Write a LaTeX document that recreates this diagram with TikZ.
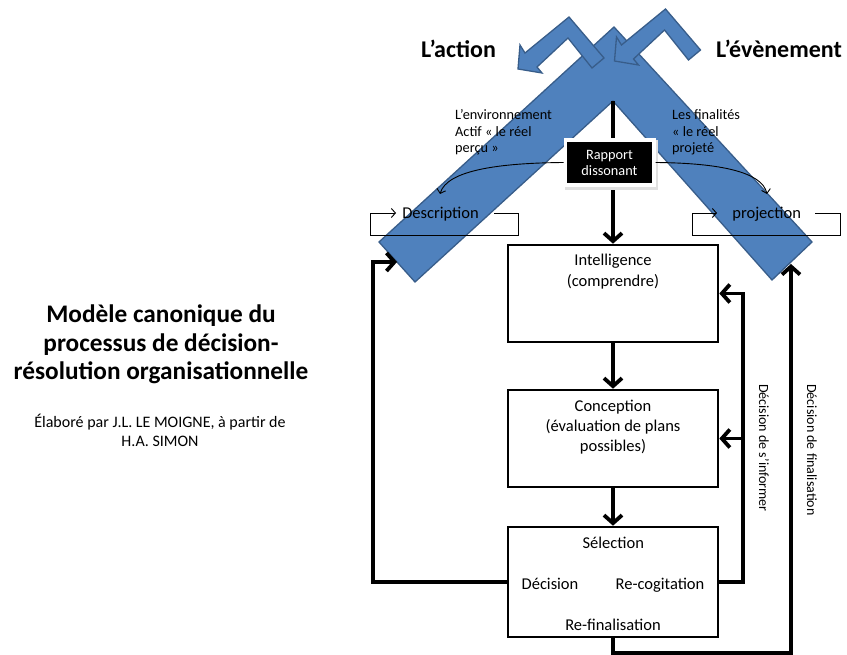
\documentclass[tikz,border=0pt]{standalone}
\usepackage{fontspec}
\setmainfont{Carlito}
\usetikzlibrary{arrows.meta}
\definecolor{chevfill}{HTML}{4F81BD}
\definecolor{chevline}{HTML}{385D8A}
\begin{document}
\begin{tikzpicture}[x=1pt,y=-1pt,
  procbox/.style={draw=black, line width=2.6pt, minimum width=210pt, inner sep=0pt},
  lbl/.style={inner sep=0pt, anchor=base, font=\fontsize{16.5}{20}\selectfont},
  small/.style={inner sep=0pt, anchor=base west, font=\fontsize{14.3}{17}\selectfont},
  vlbl/.style={inner sep=0pt, rotate=-90, font=\fontsize{14}{17}\selectfont},
  headline/.style={inner sep=0pt, anchor=base, font=\bfseries\fontsize{24}{28}\selectfont},
  titleline/.style={inner sep=0pt, anchor=base, font=\bfseries\fontsize{25.3}{28.5}\selectfont},
  subline/.style={inner sep=0pt, anchor=base, font=\fontsize{16}{19}\selectfont},
  fb/.style={line width=3.8pt, -{Straight Barb[length=8pt,width=18pt]}},
  thinarrow/.style={line width=0.9pt, -{Straight Barb[length=4pt,width=9pt]}},
  blueshape/.style={fill=chevfill, draw=chevline, line width=1.3pt, line join=miter}
]
\useasboundingbox (0,0) rectangle (847,655);

% big chevron
\path[blueshape] (379,242) -- (614,27) -- (812,242) -- (772,280) -- (613,101) -- (415,282) -- cycle;
% small bent arrows
\path[blueshape] (604,58) -- (569,17) -- (525,53) -- (520,45) -- (518,69) -- (542,73) -- (537,67) -- (568,38) -- (592,68) -- cycle;
\path[blueshape, shift={(96.5,-8)}] (604,58) -- (569,17) -- (525,53) -- (520,45) -- (518,69) -- (542,73) -- (537,67) -- (568,38) -- (592,68) -- cycle;

% process boxes
\node[procbox, minimum height=97pt] (intel) at (613,293.5) {};
\node[procbox, minimum height=97pt] (conc) at (613,438.5) {};
\node[procbox, minimum height=110pt] (sel) at (613,582) {};

% main vertical flow
\coordinate (apex) at (613,101);
\draw[fb] (apex) -- (intel.north);
\draw[fb] (intel.south) -- (conc.north);
\draw[fb] (conc.south) -- (sel.north);

% rapport dissonant
\fill[black!12] (565,140) rectangle (658,190);
\node[fill=black, draw=white, line width=3.5pt, minimum width=88.5pt, minimum height=45pt, inner sep=0pt] (rap) at (609.5,162.5) {};
\node[inner sep=0pt, anchor=base, text=white, font=\fontsize{14.3}{17}\selectfont] (rap1) at (609.5,159.3) {Rapport};
\node[inner sep=0pt, anchor=base, text=white, font=\fontsize{14.3}{17}\selectfont] (rap2) at (609.5,176) {dissonant};

% curved arrows
\coordinate (dtip) at (440,194);
\coordinate (ptip) at (767,194);
\draw[thinarrow] (rap.west) .. controls (500,163) and (447,170) .. (dtip);
\draw[thinarrow] (rap.east) .. controls (720,163) and (762,172) .. (ptip);

% description loop
\node[lbl] (desc) at (440.5,218.5) {Description};
\coordinate (d1) at (494,213);
\coordinate (d2) at (518,235);
\coordinate (d3) at (370,213);
\coordinate (d4) at (396,213);
\draw[thinarrow] (d1) -| (d2) -| (d3) -- (d4);

% projection loop
\node[lbl] (proj) at (766.7,218.3) {projection};
\coordinate (p1) at (815,213);
\coordinate (p2) at (840,235);
\coordinate (p3) at (692,213);
\coordinate (p4) at (717,213);
\draw[thinarrow] (p1) -| (p2) -| (p3) -- (p4);

% top labels
\node[headline] (act) at (458.5,57.5) {L’action};
\node[headline] (evt) at (779,57.5) {L’évènement};

\node[small] (env1) at (455,119.5) {L’environnement};
\node[small] (env2) at (455,136.5) {Actif « le réel};
\node[small] (env3) at (455,153) {perçu »};
\node[small] (fin1) at (672,119.5) {Les finalités};
\node[small] (fin2) at (672,136.5) {« le réel};
\node[small] (fin3) at (672,153) {projeté};

% box texts
\node[lbl] (i1) at (613,266) {Intelligence};
\node[lbl] (i2) at (613,286.7) {(comprendre)};
\node[lbl] (c1) at (613,411) {Conception};
\node[lbl] (c2) at (613,431.7) {(évaluation de plans};
\node[lbl] (c3) at (613,451.7) {possibles)};
\node[lbl] (s1) at (613.3,548.3) {Sélection};
\node[lbl] (s2) at (550,589.3) {Décision};
\node[lbl] (s3) at (660,589.3) {Re-cogitation};
\node[lbl] (s4) at (613,630) {Re-finalisation};

% feedback loops
\coordinate (ltip) at (397,262);
\coordinate (lcorner) at (373,262);
\draw[fb] (sel.west) -| (lcorner) -- (ltip);

\coordinate (rc) at (743,293.5);
\draw[fb] (sel.east) -| (rc) -- (intel.east);
\draw[fb] (rc |- conc.east) -- (conc.east);

\coordinate (rbot) at (613,653);
\coordinate (rtip) at (791,264);
\draw[fb] (sel.south) -- (rbot) -| (rtip);

\node[vlbl] (dinf) at (764,448) {Décision de s’informer};
\node[vlbl] (dfin) at (812,450) {Décision de finalisation};

% title
\node[titleline] (t1) at (161,323) {Modèle canonique du};
\node[titleline] (t2) at (161,351.5) {processus de décision-};
\node[titleline] (t3) at (161,380) {résolution organisationnelle};
\node[subline] (e1) at (160,427.5) {Élaboré par J.L. LE MOIGNE, à partir de};
\node[subline] (e2) at (160,446.5) {H.A. SIMON};
\end{tikzpicture}
\end{document}
